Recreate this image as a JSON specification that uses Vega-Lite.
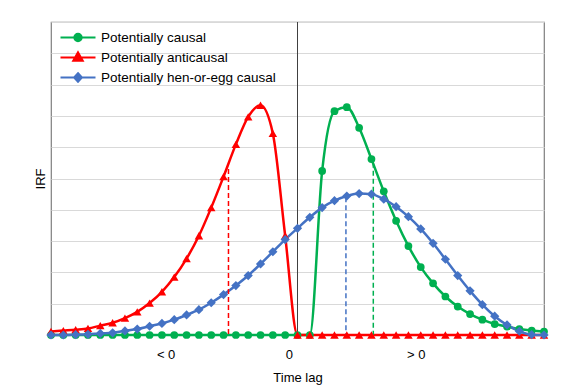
{
  "$schema": "https://vega.github.io/schema/vega-lite/v6.json",
  "width": 493,
  "height": 313,
  "autosize": "none",
  "padding": {"left": 51, "top": 22, "right": 41, "bottom": 57},
  "background": "white",
  "config": {
    "view": {"stroke": "#7f7f7f", "strokeWidth": 1.2},
    "font": "Liberation Sans"
  },
  "datasets": {
    "curves": [
      {"series": "Potentially causal", "x": -20, "y": 0}, {"series": "Potentially causal", "x": -19, "y": 0}, {"series": "Potentially causal", "x": -18, "y": 0}, {"series": "Potentially causal", "x": -17, "y": 0}, {"series": "Potentially causal", "x": -16, "y": 0}, {"series": "Potentially causal", "x": -15, "y": 0}, {"series": "Potentially causal", "x": -14, "y": 0}, {"series": "Potentially causal", "x": -13, "y": 0}, {"series": "Potentially causal", "x": -12, "y": 0}, {"series": "Potentially causal", "x": -11, "y": 0}, {"series": "Potentially causal", "x": -10, "y": 0}, {"series": "Potentially causal", "x": -9, "y": 0}, {"series": "Potentially causal", "x": -8, "y": 0}, {"series": "Potentially causal", "x": -7, "y": 0}, {"series": "Potentially causal", "x": -6, "y": 0}, {"series": "Potentially causal", "x": -5, "y": 0}, {"series": "Potentially causal", "x": -4, "y": 0}, {"series": "Potentially causal", "x": -3, "y": 0}, {"series": "Potentially causal", "x": -2, "y": 0}, {"series": "Potentially causal", "x": -1, "y": 0}, {"series": "Potentially causal", "x": 0, "y": 0}, {"series": "Potentially causal", "x": 1, "y": 0}, {"series": "Potentially causal", "x": 2, "y": 5.24}, {"series": "Potentially causal", "x": 3, "y": 7.15}, {"series": "Potentially causal", "x": 4, "y": 7.28}, {"series": "Potentially causal", "x": 5, "y": 6.62}, {"series": "Potentially causal", "x": 6, "y": 5.62}, {"series": "Potentially causal", "x": 7, "y": 4.59}, {"series": "Potentially causal", "x": 8, "y": 3.65}, {"series": "Potentially causal", "x": 9, "y": 2.84}, {"series": "Potentially causal", "x": 10, "y": 2.17}, {"series": "Potentially causal", "x": 11, "y": 1.65}, {"series": "Potentially causal", "x": 12, "y": 1.23}, {"series": "Potentially causal", "x": 13, "y": 0.91}, {"series": "Potentially causal", "x": 14, "y": 0.67}, {"series": "Potentially causal", "x": 15, "y": 0.49}, {"series": "Potentially causal", "x": 16, "y": 0.35}, {"series": "Potentially causal", "x": 17, "y": 0.27}, {"series": "Potentially causal", "x": 18, "y": 0.19}, {"series": "Potentially causal", "x": 19, "y": 0.14}, {"series": "Potentially causal", "x": 20, "y": 0.11},
      {"series": "Potentially anticausal", "x": -20, "y": 0.11}, {"series": "Potentially anticausal", "x": -19, "y": 0.14}, {"series": "Potentially anticausal", "x": -18, "y": 0.17}, {"series": "Potentially anticausal", "x": -17, "y": 0.21}, {"series": "Potentially anticausal", "x": -16, "y": 0.3}, {"series": "Potentially anticausal", "x": -15, "y": 0.39}, {"series": "Potentially anticausal", "x": -14, "y": 0.54}, {"series": "Potentially anticausal", "x": -13, "y": 0.74}, {"series": "Potentially anticausal", "x": -12, "y": 1.02}, {"series": "Potentially anticausal", "x": -11, "y": 1.38}, {"series": "Potentially anticausal", "x": -10, "y": 1.85}, {"series": "Potentially anticausal", "x": -9, "y": 2.44}, {"series": "Potentially anticausal", "x": -8, "y": 3.17}, {"series": "Potentially anticausal", "x": -7, "y": 4.07}, {"series": "Potentially anticausal", "x": -6, "y": 5.06}, {"series": "Potentially anticausal", "x": -5, "y": 6.09}, {"series": "Potentially anticausal", "x": -4, "y": 6.97}, {"series": "Potentially anticausal", "x": -3, "y": 7.34}, {"series": "Potentially anticausal", "x": -2, "y": 6.44}, {"series": "Potentially anticausal", "x": -1, "y": 3.17}, {"series": "Potentially anticausal", "x": 0, "y": 0}, {"series": "Potentially anticausal", "x": 1, "y": 0}, {"series": "Potentially anticausal", "x": 2, "y": 0}, {"series": "Potentially anticausal", "x": 3, "y": 0}, {"series": "Potentially anticausal", "x": 4, "y": 0}, {"series": "Potentially anticausal", "x": 5, "y": 0}, {"series": "Potentially anticausal", "x": 6, "y": 0}, {"series": "Potentially anticausal", "x": 7, "y": 0}, {"series": "Potentially anticausal", "x": 8, "y": 0}, {"series": "Potentially anticausal", "x": 9, "y": 0}, {"series": "Potentially anticausal", "x": 10, "y": 0}, {"series": "Potentially anticausal", "x": 11, "y": 0}, {"series": "Potentially anticausal", "x": 12, "y": 0}, {"series": "Potentially anticausal", "x": 13, "y": 0}, {"series": "Potentially anticausal", "x": 14, "y": 0}, {"series": "Potentially anticausal", "x": 15, "y": 0}, {"series": "Potentially anticausal", "x": 16, "y": 0}, {"series": "Potentially anticausal", "x": 17, "y": 0}, {"series": "Potentially anticausal", "x": 18, "y": 0}, {"series": "Potentially anticausal", "x": 19, "y": 0}, {"series": "Potentially anticausal", "x": 20, "y": 0},
      {"series": "Potentially hen-or-egg causal", "x": -20, "y": 0}, {"series": "Potentially hen-or-egg causal", "x": -19, "y": 0}, {"series": "Potentially hen-or-egg causal", "x": -18, "y": 0.01}, {"series": "Potentially hen-or-egg causal", "x": -17, "y": 0.02}, {"series": "Potentially hen-or-egg causal", "x": -16, "y": 0.05}, {"series": "Potentially hen-or-egg causal", "x": -15, "y": 0.07}, {"series": "Potentially hen-or-egg causal", "x": -14, "y": 0.13}, {"series": "Potentially hen-or-egg causal", "x": -13, "y": 0.19}, {"series": "Potentially hen-or-egg causal", "x": -12, "y": 0.28}, {"series": "Potentially hen-or-egg causal", "x": -11, "y": 0.37}, {"series": "Potentially hen-or-egg causal", "x": -10, "y": 0.49}, {"series": "Potentially hen-or-egg causal", "x": -9, "y": 0.64}, {"series": "Potentially hen-or-egg causal", "x": -8, "y": 0.81}, {"series": "Potentially hen-or-egg causal", "x": -7, "y": 1.03}, {"series": "Potentially hen-or-egg causal", "x": -6, "y": 1.29}, {"series": "Potentially hen-or-egg causal", "x": -5, "y": 1.58}, {"series": "Potentially hen-or-egg causal", "x": -4, "y": 1.9}, {"series": "Potentially hen-or-egg causal", "x": -3, "y": 2.27}, {"series": "Potentially hen-or-egg causal", "x": -2, "y": 2.66}, {"series": "Potentially hen-or-egg causal", "x": -1, "y": 3.05}, {"series": "Potentially hen-or-egg causal", "x": 0, "y": 3.41}, {"series": "Potentially hen-or-egg causal", "x": 1, "y": 3.76}, {"series": "Potentially hen-or-egg causal", "x": 2, "y": 4.07}, {"series": "Potentially hen-or-egg causal", "x": 3, "y": 4.29}, {"series": "Potentially hen-or-egg causal", "x": 4, "y": 4.44}, {"series": "Potentially hen-or-egg causal", "x": 5, "y": 4.52}, {"series": "Potentially hen-or-egg causal", "x": 6, "y": 4.5}, {"series": "Potentially hen-or-egg causal", "x": 7, "y": 4.34}, {"series": "Potentially hen-or-egg causal", "x": 8, "y": 4.1}, {"series": "Potentially hen-or-egg causal", "x": 9, "y": 3.78}, {"series": "Potentially hen-or-egg causal", "x": 10, "y": 3.39}, {"series": "Potentially hen-or-egg causal", "x": 11, "y": 2.93}, {"series": "Potentially hen-or-egg causal", "x": 12, "y": 2.42}, {"series": "Potentially hen-or-egg causal", "x": 13, "y": 1.9}, {"series": "Potentially hen-or-egg causal", "x": 14, "y": 1.41}, {"series": "Potentially hen-or-egg causal", "x": 15, "y": 0.97}, {"series": "Potentially hen-or-egg causal", "x": 16, "y": 0.6}, {"series": "Potentially hen-or-egg causal", "x": 17, "y": 0.32}, {"series": "Potentially hen-or-egg causal", "x": 18, "y": 0.12}, {"series": "Potentially hen-or-egg causal", "x": 19, "y": 0.01}, {"series": "Potentially hen-or-egg causal", "x": 20, "y": 0}
    ],
    "dashes": [
      {"series": "Potentially anticausal", "x": -5.6, "y": 5.3},
      {"series": "Potentially hen-or-egg causal", "x": 3.93, "y": 4.4},
      {"series": "Potentially causal", "x": 6.15, "y": 5.5}
    ],
    "zero": [{"series": "zero", "x": 0, "y": 10}]
  },
  "encoding": {
    "x": {"field": "x", "type": "quantitative", "scale": {"domain": [-20, 20], "nice": false, "zero": false},
      "axis": {"values": [-10.7, -0.7, 9.6], "labelExpr": "datum.value < -5 ? '< 0' : (datum.value < 5 ? '0' : '> 0')", "grid": false, "ticks": false, "domain": false, "labelPadding": 13, "labelFontSize": 13, "labelColor": "#000000", "title": "Time lag", "titleFontSize": 13, "titleFontWeight": "normal", "titleColor": "#000000", "titlePadding": 10}},
    "y": {"field": "y", "type": "quantitative", "scale": {"domain": [0, 10], "nice": false},
      "axis": {"labels": false, "ticks": false, "domain": false, "grid": true, "gridColor": "#d9d9d9", "gridWidth": 1.2, "values": [0, 1, 2, 3, 4, 5, 6, 7, 8, 9, 10], "title": "IRF", "titleFontSize": 13, "titleFontWeight": "normal", "titleColor": "#000000", "titlePadding": 4}},
    "color": {"field": "series", "type": "nominal",
      "scale": {"domain": ["Potentially causal", "Potentially anticausal", "Potentially hen-or-egg causal", "zero"], "range": ["#00b050", "#ff0000", "#4472c4", "#404040"]},
      "legend": {"title": null, "values": ["Potentially causal", "Potentially anticausal", "Potentially hen-or-egg causal"], "orient": "none", "legendX": 15.5, "legendY": 4, "padding": 0, "labelFontSize": 13.5, "labelLimit": 400, "labelColor": "#000000", "labelOffset": 11.5, "rowPadding": 0, "symbolSize": 400, "symbolStrokeWidth": 2.2, "symbolOpacity": 1,
        "encode": {"symbols": {"update": {
          "shape": {"signal": "datum.value == 'Potentially causal' ? 'M-1.75,0L1.75,0M-0.36,0A0.36,0.36 0 1,1 0.36,0A0.36,0.36 0 1,1 -0.36,0Z' : (datum.value == 'Potentially anticausal' ? 'M-1.75,0L1.75,0M0,-0.5L0.46,0.32L-0.46,0.32Z' : 'M-1.75,0L1.75,0M0,-0.42L0.38,0L0,0.42L-0.38,0Z')"},
          "stroke": {"signal": "scale('color', datum.value)"},
          "fill": {"signal": "scale('color', datum.value)"}
        }}}}}
  },
  "layer": [
    {
      "data": {"name": "curves"},
      "mark": {"type": "line", "interpolate": "monotone", "strokeWidth": 2.5}
    },
    {
      "data": {"name": "zero"},
      "mark": {"type": "rule", "strokeWidth": 1},
      "encoding": {"y2": {"datum": 0}}
    },
    {
      "data": {"name": "dashes"},
      "mark": {"type": "rule", "strokeDash": [5, 3], "strokeWidth": 1.5},
      "encoding": {"y2": {"datum": 0}}
    },
    {
      "data": {"name": "curves"},
      "mark": {"type": "point", "filled": true, "opacity": 1},
      "encoding": {
        "shape": {"field": "series", "type": "nominal",
          "scale": {"domain": ["Potentially causal", "Potentially anticausal", "Potentially hen-or-egg causal"], "range": ["circle", "triangle-up", "diamond"]},
          "legend": null},
        "size": {"field": "series", "type": "nominal",
          "scale": {"domain": ["Potentially causal", "Potentially anticausal", "Potentially hen-or-egg causal"], "range": [60, 85, 70]},
          "legend": null}
      }
    }
  ]
}
